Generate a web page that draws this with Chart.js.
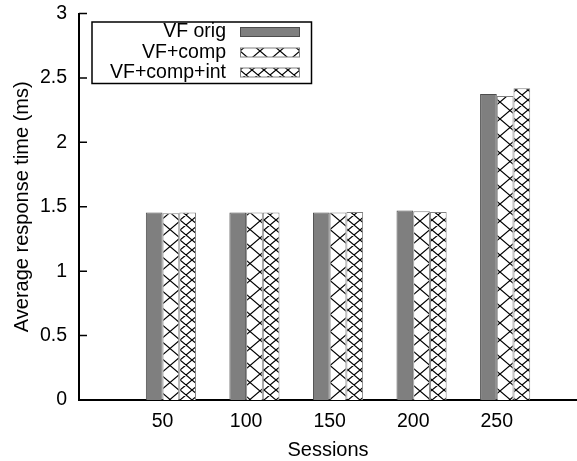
<!DOCTYPE html>
<html>
<head>
<meta charset="utf-8">
<script src="https://cdn.jsdelivr.net/npm/chart.js@4/dist/chart.umd.min.js"></script>
<style>
  html, body { margin: 0; padding: 0; background: #fff; }
  canvas { display: block; }
</style>
</head>
<body>
<canvas id="chart" width="577" height="461"></canvas>
<script>
// Average response time (ms) per number of sessions
const sessions    = ['50', '100', '150', '200', '250'];
const vfOrig      = [1.455, 1.455, 1.455, 1.470, 2.375];
const vfComp      = [1.450, 1.455, 1.455, 1.465, 2.360];
const vfCompInt   = [1.455, 1.455, 1.460, 1.460, 2.420];
const seriesNames = ['VF orig', 'VF+comp', 'VF+comp+int'];
const yTicks      = [0, 0.5, 1, 1.5, 2, 2.5, 3];

const FONT = '"Liberation Sans", Arial, Helvetica, sans-serif';
Chart.defaults.font.family = FONT;
Chart.defaults.color = '#000';

const canvas = document.getElementById('chart');
const ctx = canvas.getContext('2d');

// Diagonal cross-hatch fill (diamond lattice) of a given cell size
function hatch(w, h, lw) {
  const c = document.createElement('canvas');
  c.width = w; c.height = h;
  const g = c.getContext('2d');
  g.fillStyle = '#fff';
  g.fillRect(0, 0, w, h);
  g.strokeStyle = '#000';
  g.lineWidth = lw;
  g.beginPath();
  for (let k = -1; k <= 1; k++) {
    g.moveTo(-w + k * w, -h); g.lineTo(2 * w + k * w, 2 * h);
    g.moveTo(2 * w + k * w, -h); g.lineTo(-w + k * w, 2 * h);
  }
  g.stroke();
  return ctx.createPattern(c, 'repeat');
}

const fills   = ['#7f7f7f', hatch(20, 17, 1.2), hatch(12, 10, 1.2)];
const borders = ['#4d4d4d', '#808080', '#808080'];

const toPoints = arr => arr.map((v, i) => ({ x: i + 1, y: v }));

// Inward tick marks on the value axis
const innerTicks = {
  id: 'innerTicks',
  afterDraw(chart) {
    const y = chart.scales.y;
    const left = chart.chartArea.left;
    const c = chart.ctx;
    c.save();
    c.strokeStyle = '#000';
    c.lineWidth = 1.5;
    c.beginPath();
    yTicks.forEach(v => {
      if (v === 0) return;
      const py = y.getPixelForValue(v);
      c.moveTo(left, py);
      c.lineTo(left + 8, py);
    });
    c.stroke();
    c.restore();
  }
};

// Boxed key: right-aligned names followed by fill samples
const keyBox = {
  id: 'keyBox',
  afterDraw(chart) {
    const c = chart.ctx;
    c.save();
    c.strokeStyle = '#000';
    c.lineWidth = 1.5;
    c.strokeRect(92, 22, 219.5, 61.5);
    c.font = '19.5px ' + FONT;
    c.textAlign = 'right';
    c.textBaseline = 'middle';
    const rows = [32, 52.5, 72.5];
    seriesNames.forEach((name, i) => {
      const ds = chart.data.datasets[i + 1];
      c.fillStyle = '#000';
      c.fillText(name, 226, rows[i]);
      c.fillStyle = ds.backgroundColor;
      c.fillRect(240, rows[i] - 4.5, 59.5, 9);
      c.strokeStyle = ds.borderColor;
      c.lineWidth = 1;
      c.strokeRect(240.5, rows[i] - 4.5, 59, 9);
    });
    c.restore();
  }
};

new Chart(ctx, {
  type: 'bar',
  data: {
    datasets: [
      // empty leading slot so each tick sits between the first and second bar
      { label: '', data: sessions.map((s, i) => ({ x: i + 1, y: null })),
        backgroundColor: 'rgba(0,0,0,0)', borderWidth: 0 },
      { label: seriesNames[0], data: toPoints(vfOrig),
        backgroundColor: fills[0], borderColor: borders[0], borderWidth: 1 },
      { label: seriesNames[1], data: toPoints(vfComp),
        backgroundColor: fills[1], borderColor: borders[1], borderWidth: 1 },
      { label: seriesNames[2], data: toPoints(vfCompInt),
        backgroundColor: fills[2], borderColor: borders[2], borderWidth: 1 }
    ]
  },
  options: {
    responsive: false,
    animation: false,
    devicePixelRatio: 1,
    layout: { padding: { top: 13.5, right: 0, bottom: 0, left: 0 } },
    datasets: { bar: { categoryPercentage: 0.8, barPercentage: 1, grouped: true } },
    plugins: { legend: { display: false }, tooltip: { enabled: false } },
    scales: {
      x: {
        type: 'linear',
        offset: false,
        min: 0,
        max: 5.96,
        grid: { display: false, drawTicks: false, offset: false },
        border: { display: true, color: '#000', width: 2 },
        afterBuildTicks: s => { s.ticks = sessions.map((_, i) => ({ value: i + 1 })); },
        ticks: {
          color: '#000',
          font: { size: 19.5 },
          padding: 10,
          maxRotation: 0,
          autoSkip: false,
          callback: v => sessions[v - 1]
        },
        title: {
          display: true,
          text: 'Sessions',
          color: '#000',
          font: { size: 20, lineHeight: 1 },
          padding: { top: 0, bottom: 0.5 }
        },
        afterFit: s => { s.height = 61; s.paddingLeft = 0; s.paddingRight = 0; }
      },
      y: {
        min: 0,
        max: 3,
        grid: { display: false, drawTicks: false },
        border: { display: true, color: '#000', width: 2 },
        afterBuildTicks: s => { s.ticks = yTicks.map(v => ({ value: v })); },
        ticks: {
          color: '#000',
          font: { size: 19.5 },
          padding: 12,
          callback: v => String(v)
        },
        title: {
          display: true,
          text: 'Average response time (ms)',
          color: '#000',
          font: { size: 20 },
          padding: { top: 10, bottom: 0 }
        },
        afterFit: s => { s.width = 79; s.paddingTop = 0; s.paddingBottom = 0; }
      }
    }
  },
  plugins: [innerTicks, keyBox]
});
</script>
</body>
</html>
